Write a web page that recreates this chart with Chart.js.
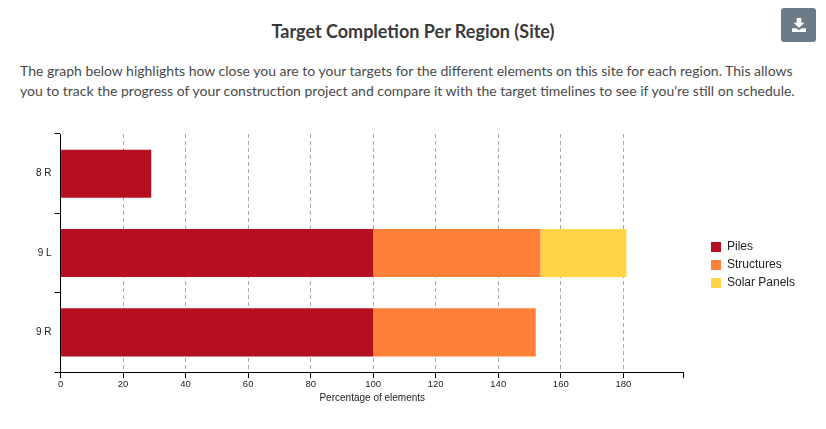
<!DOCTYPE html>
<html>
<head>
<meta charset="utf-8">
<title>Target Completion Per Region (Site)</title>
<script src="https://cdn.jsdelivr.net/npm/chart.js@4"></script>
<style>
  html, body { margin: 0; padding: 0; background: #fff; }
  body { position: relative; width: 826px; height: 429px; overflow: hidden; font-family: Lato, sans-serif; }
  h1 { position: absolute; left: 0; width: 826px; top: 20px; margin: 0; text-align: center; font-size: 18px; line-height: 22px; font-weight: 700; color: #3a3a3a; }
  p { position: absolute; left: 20px; top: 61px; width: 790px; margin: 0; font-size: 14px; line-height: 20px; color: #4a4a4a; white-space: nowrap; }
  #download { position: absolute; left: 781px; top: 8px; width: 35px; height: 34px; background: #6b7b88; border-radius: 3px; }
  #download svg { position: absolute; left: 11px; top: 10px; }
  #wrap { position: absolute; left: 0; top: 125px; width: 826px; height: 279px; }
</style>
</head>
<body>
<h1>Target Completion Per Region (Site)</h1>
<p>The graph below highlights how close you are to your targets for the different elements on this site for each region. This allows<br>you to track the progress of your construction project and compare it with the target timelines to see if you're still on schedule.</p>
<div id="download"><svg width="14" height="14" viewBox="0 0 15 15"><path fill="#fff" d="M5 0h5v5h3.500L7.500 10.500 1.500 5H5z M0 11h4.500l3 2 3-2H15v4H0z"/></svg></div>
<div id="wrap"><canvas id="chart"></canvas></div>
<script>
const categories = ['8 R', '9 L', '9 R'];
const piles = [29, 100, 100];
const structures = [0, 53.5, 52];
const solarPanels = [0, 27.5, 0];
const axisMax = 199.4;

const tickFont = { family: '"Liberation Sans", Arial, sans-serif', size: 9.5 };

// the legend sits further from the plot than Chart.js would put it
const moveLegend = {
  id: 'moveLegend',
  afterLayout(chart) {
    chart.legend.left = 705;
    chart.legend.right = 826;
    chart.legend.top = 110;
    chart.legend.bottom = 279;
  }
};

const ctx = document.getElementById('chart').getContext('2d');

new Chart(ctx, {
  type: 'bar',
  plugins: [moveLegend],
  data: {
    labels: categories,
    datasets: [
      { label: 'Piles', data: piles, backgroundColor: '#B60F20' },
      { label: 'Structures', data: structures, backgroundColor: '#FF8139' },
      { label: 'Solar Panels', data: solarPanels, backgroundColor: '#FFD447' }
    ]
  },
  options: {
    indexAxis: 'y',
    responsive: true,
    maintainAspectRatio: false,
    animation: false,
    layout: { padding: { left: 33, right: 42, top: 7.5, bottom: 0 } },
    datasets: { bar: { categoryPercentage: 1, barPercentage: 0.606 } },
    plugins: {
      tooltip: { enabled: false },
      legend: {
        position: 'right',
        align: 'start',
        labels: {
          boxWidth: 10,
          boxHeight: 10,
          padding: 6,
          color: '#222',
          font: { family: '"Liberation Sans", Arial, sans-serif', size: 12 }
        }
      }
    },
    scales: {
      x: {
        stacked: true,
        min: 0,
        max: axisMax,
        border: { color: '#000', dash: [4, 3] },
        grid: {
          color: c => (c.tick && c.tick.value > 0 && c.tick.value % 20 === 0) ? '#a8a8a8' : 'transparent',
          tickColor: '#000',
          tickLength: 6,
          tickBorderDash: []
        },
        ticks: {
          stepSize: 20,
          autoSkip: false,
          maxRotation: 0,
          padding: 1,
          color: '#222',
          font: tickFont,
          callback: v => (v % 20 === 0 ? v : '')
        },
        title: {
          display: true,
          text: 'Percentage of elements',
          color: '#222',
          padding: { top: 0.5, bottom: 0 },
          font: { family: '"Liberation Sans", Arial, sans-serif', size: 10 }
        }
      },
      y: {
        stacked: true,
        border: { color: '#000' },
        grid: {
          drawOnChartArea: false,
          color: '#000',
          tickLength: 6
        },
        ticks: {
          padding: 3,
          color: '#222',
          font: { family: '"Liberation Sans", Arial, sans-serif', size: 10 }
        }
      }
    }
  }
});
</script>
</body>
</html>
